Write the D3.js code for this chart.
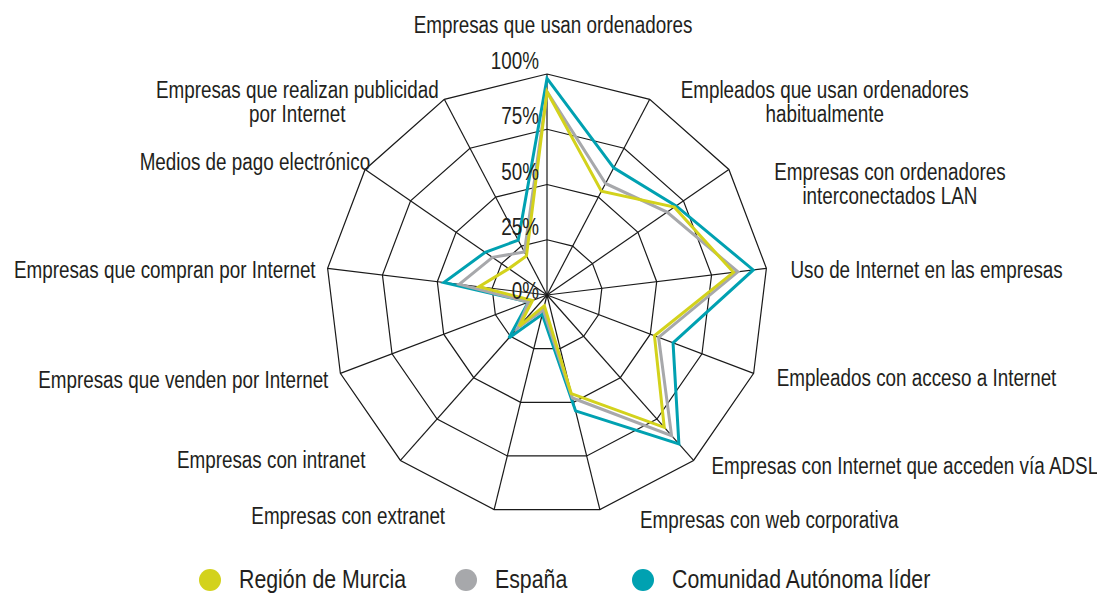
<!DOCTYPE html>
<html>
<head>
<meta charset="utf-8">
<script src="https://cdn.jsdelivr.net/npm/d3@7"></script>
<style>
  body { margin: 0; background: #fff; }
  text { font-family: 'Liberation Sans', Arial, sans-serif; fill: #231f20; }
</style>
</head>
<body>
<svg id="chart" width="1097" height="594"></svg>
<script>
// Data
var categories = [
  ["Empresas que usan ordenadores"],
  ["Empleados que usan ordenadores", "habitualmente"],
  ["Empresas con ordenadores", "interconectados LAN"],
  ["Uso de Internet en las empresas"],
  ["Empleados con acceso a Internet"],
  ["Empresas con Internet que acceden vía ADSL"],
  ["Empresas con web corporativa"],
  ["Empresas con extranet"],
  ["Empresas con intranet"],
  ["Empresas que venden por Internet"],
  ["Empresas que compran por Internet"],
  ["Medios de pago electrónico"],
  ["Empresas que realizan publicidad", "por Internet"]
];
var murcia = [92, 53, 70, 85, 52, 80, 46, 5, 19, 7, 31, 21, 20];
var espana = [92, 57, 66, 87, 54, 85, 48, 7, 20, 9, 40, 30, 22];
var lider  = [98, 65, 71, 94, 61, 90, 54, 9, 26, 9, 47, 34, 28];
var tickValues = [0, 25, 50, 75, 100];
var seriesNames = ["Región de Murcia", "España", "Comunidad Autónoma líder"];

// Layout
var cx = 547, cy = 295, radius = 221;
var colors = ["#d3d21c", "#a7a8ab", "#00a1b1"];
var squeeze = 0.82;   // no condensed font installed, so squash Liberation Sans
// label offsets from each outer vertex: [dx, dy, anchor]
var labelPlace = [
  [6, -41, "middle"], [175, -1, "middle"], [161, 11, "middle"],
  [24, 10, "start"], [23, 13, "start"], [18, 14, "start"], [40, 18, "start"],
  [-49, 14, "end"], [-35, 8, "end"], [-12, 15, "end"], [-12, 10, "end"],
  [5, 1, "end"], [-147, -1, "middle"]
];

var svg = d3.select("#chart");
var g = svg.append("g").attr("transform", "translate(" + cx + "," + cy + ")");

var n = categories.length;
var angle = d3.scaleLinear().domain([0, n]).range([0, 2 * Math.PI]);
var r = d3.scaleLinear().domain([0, 100]).range([0, radius]);

function pt(i, v) {
  var a = angle(i);
  return [r(v) * Math.sin(a), -r(v) * Math.cos(a)];
}

var radar = d3.lineRadial()
  .curve(d3.curveLinearClosed)
  .angle(function(d, i) { return angle(i); })
  .radius(function(d) { return r(d); });

// Grid rings
g.selectAll(".ring")
  .data(tickValues.filter(function(t) { return t > 0; }))
  .enter().append("path")
    .attr("class", "ring")
    .attr("d", function(t) { return radar(categories.map(function() { return t; })); })
    .style("fill", "none")
    .style("stroke", "#1a1a1a")
    .style("stroke-width", 1.2);

// Spokes
g.selectAll(".spoke")
  .data(categories)
  .enter().append("line")
    .attr("class", "spoke")
    .attr("x1", 0).attr("y1", 0)
    .attr("x2", function(d, i) { return pt(i, 100)[0]; })
    .attr("y2", function(d, i) { return pt(i, 100)[1]; })
    .style("stroke", "#1a1a1a")
    .style("stroke-width", 1.2);

// Series (teal at the back, yellow on top)
var series = [lider, espana, murcia];
var seriesColors = [colors[2], colors[1], colors[0]];
g.selectAll(".series")
  .data(series)
  .enter().append("path")
    .attr("class", "series")
    .attr("d", function(d) { return radar(d); })
    .style("fill", "none")
    .style("stroke", function(d, i) { return seriesColors[i]; })
    .style("stroke-width", 3)
    .style("stroke-linejoin", "miter");

// Percent tick labels
g.selectAll(".tick-label")
  .data(tickValues)
  .enter().append("text")
    .attr("class", "tick-label")
    .attr("text-anchor", "end")
    .attr("transform", function(t) {
      return "translate(-8," + (t === 0 ? 4 : -r(t) - 5) + ") scale(" + squeeze + ",1)";
    })
    .style("font-size", "23px")
    .text(function(t) { return t + "%"; });

// Category labels
var lab = g.selectAll(".cat-label")
  .data(categories)
  .enter().append("text")
    .attr("class", "cat-label")
    .attr("text-anchor", function(d, i) { return labelPlace[i][2]; })
    .attr("transform", function(d, i) {
      var p = pt(i, 100);
      return "translate(" + (p[0] + labelPlace[i][0]) + "," + (p[1] + labelPlace[i][1]) + ") scale(" + squeeze + ",1)";
    })
    .style("font-size", "23px");
lab.selectAll("tspan")
  .data(function(d) { return d; })
  .enter().append("tspan")
    .attr("x", 0)
    .attr("dy", function(d, j) { return j === 0 ? 0 : 24; })
    .text(function(d) { return d; });

// Legend
var legendX = [210, 466, 643];
var legend = svg.selectAll(".legend")
  .data(seriesNames)
  .enter().append("g")
    .attr("class", "legend")
    .attr("transform", function(d, i) { return "translate(" + legendX[i] + ",580)"; });
legend.append("circle")
  .attr("r", 11)
  .style("fill", function(d, i) { return colors[i]; });
legend.append("text")
  .attr("transform", "translate(29,8) scale(" + squeeze + ",1)")
  .style("font-size", "26px")
  .text(function(d) { return d; });
</script>
</body>
</html>
